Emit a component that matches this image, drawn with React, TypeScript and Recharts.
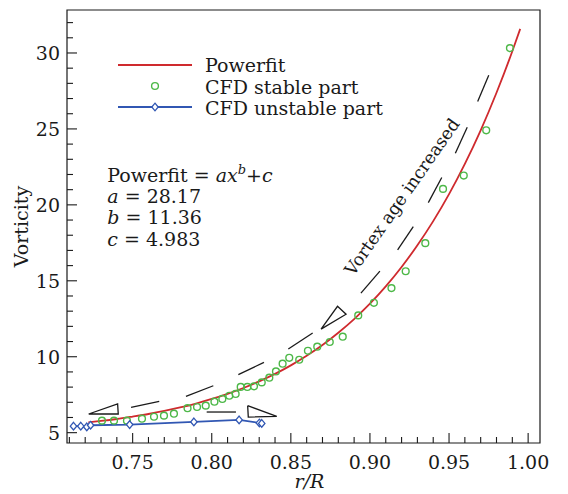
import React from 'react';
import { ComposedChart, Line, Scatter, XAxis, YAxis, ReferenceArea, Legend } from 'recharts';

// ---- data ----
const fitX = [0.722, 0.73, 0.74, 0.75, 0.76, 0.77, 0.78, 0.79, 0.80, 0.81, 0.82, 0.83, 0.84, 0.85, 0.86, 0.87, 0.88, 0.89, 0.90, 0.91, 0.92, 0.93, 0.94, 0.95, 0.96, 0.97, 0.98, 0.99, 0.995];
const fitY = [5.68, 5.77, 5.90, 6.06, 6.23, 6.43, 6.66, 6.92, 7.22, 7.56, 7.94, 8.38, 8.87, 9.43, 10.06, 10.77, 11.58, 12.48, 13.49, 14.63, 15.91, 17.34, 18.93, 20.71, 22.70, 24.91, 27.38, 30.11, 31.59];

const stableX = [0.7306, 0.7382, 0.7464, 0.7559, 0.7635, 0.7698, 0.7761, 0.7847, 0.7907, 0.7962, 0.8017, 0.8067, 0.8111, 0.8151, 0.8183, 0.8225, 0.8267, 0.8316, 0.8364, 0.8406, 0.8448, 0.8490, 0.8553, 0.8608, 0.8667, 0.8746, 0.8828, 0.8926, 0.9025, 0.9136, 0.9226, 0.9350, 0.9462, 0.9593, 0.9735, 0.9885];
const stableY = [5.79, 5.79, 5.79, 5.92, 6.05, 6.12, 6.25, 6.61, 6.69, 6.78, 7.04, 7.22, 7.43, 7.55, 8.01, 8.01, 8.05, 8.31, 8.62, 9.03, 9.54, 9.93, 9.80, 10.39, 10.66, 10.97, 11.32, 12.72, 13.55, 14.52, 15.63, 17.48, 21.05, 21.93, 24.91, 30.32];

const unstableX = [0.7126, 0.7172, 0.7210, 0.7234, 0.7481, 0.7887, 0.8173, 0.8301, 0.8316];
const unstableY = [5.43, 5.43, 5.38, 5.49, 5.53, 5.71, 5.84, 5.64, 5.61];

const xMajorTicks = [0.75, 0.80, 0.85, 0.90, 0.95, 1.00];
const xTicks = [0.71, 0.72, 0.73, 0.74, 0.75, 0.76, 0.77, 0.78, 0.79, 0.80, 0.81, 0.82, 0.83, 0.84, 0.85, 0.86, 0.87, 0.88, 0.89, 0.90, 0.91, 0.92, 0.93, 0.94, 0.95, 0.96, 0.97, 0.98, 0.99, 1.00];
const yMajorTicks = [5, 10, 15, 20, 25, 30];
const yTicks = [5, 6, 7, 8, 9, 10, 11, 12, 13, 14, 15, 16, 17, 18, 19, 20, 21, 22, 23, 24, 25, 26, 27, 28, 29, 30, 31, 32];

const xDomain = [0.7085, 1.0075];
const yDomain = [4.32, 32.83];

// annotation arrows (data coordinates)
const arrowDashes = [
  [0.7490, 6.66, 0.7668, 7.06],
  [0.7837, 7.39, 0.8010, 8.09],
  [0.8168, 8.82, 0.8330, 9.63],
  [0.8484, 10.51, 0.8638, 11.56],
  [0.8943, 14.19, 0.9063, 15.64],
  [0.9175, 17.04, 0.9274, 18.57],
  [0.9369, 20.15, 0.9454, 21.80],
  [0.9540, 23.40, 0.9615, 25.11],
  [0.9681, 26.80, 0.9751, 28.53],
  [0.7968, 6.36, 0.8153, 6.36],
];
const arrowHeads = [
  [[0.7222, 6.23], [0.7405, 6.89], [0.7409, 6.23]],
  [[0.8691, 11.82], [0.8795, 13.32], [0.8849, 12.80]],
  [[0.8227, 6.78], [0.8231, 6.03], [0.8411, 6.07]],
];
const formulaAnchor = [{ x: 0.7340, y: 21.5 }];
const vortexAnchor = [{ x: 0.9203, y: 20.53 }];

const fitData = fitX.map((x, i) => ({ x, y: fitY[i] }));
const stableData = stableX.map((x, i) => ({ x, y: stableY[i] }));
const unstableData = unstableX.map((x, i) => ({ x, y: unstableY[i] }));

const RED = '#cf2a2e';
const GREEN = '#4db848';
const BLUE = '#3157b3';
const INK = '#1a1a1a';
const FONT = '"DejaVu Serif", serif';
const FS = 19;

function XTick(props: any) {
  const { x, y, payload } = props;
  const v = payload.value;
  const major = xMajorTicks.some((m) => Math.abs(m - v) < 1e-6);
  return (
    <g>
      <line x1={x} x2={x} y1={y} y2={y - (major ? 10 : 6)} stroke={INK} strokeWidth={1.1} />
      {major && (
        <text x={x} y={y + 26} textAnchor="middle" fontFamily={FONT} fontSize={FS} fill={INK}>
          {v.toFixed(2)}
        </text>
      )}
    </g>
  );
}

function YTick(props: any) {
  const { x, y, payload } = props;
  const v = payload.value;
  const major = yMajorTicks.includes(v);
  return (
    <g>
      <line x1={x} x2={x + (major ? 10 : 6)} y1={y} y2={y} stroke={INK} strokeWidth={1.1} />
      {major && (
        <text x={x - 7} y={y + 7} textAnchor="end" fontFamily={FONT} fontSize={FS} fill={INK}>
          {String(v)}
        </text>
      )}
    </g>
  );
}

function Diamond(props: any) {
  const { cx, cy } = props;
  if (cx == null || cy == null) return null;
  return (
    <path
      d={`M${cx},${cy - 3.8} L${cx + 3.2},${cy} L${cx},${cy + 3.8} L${cx - 3.2},${cy} Z`}
      fill="#fff"
      stroke={BLUE}
      strokeWidth={1.3}
    />
  );
}

function Ring(props: any) {
  const { cx, cy } = props;
  return <circle cx={cx} cy={cy} r={3.4} fill="none" stroke={GREEN} strokeWidth={1.4} />;
}

function FormulaShape(props: any) {
  const { cx, cy } = props;
  const st = { fontFamily: FONT, fontSize: FS, fill: INK } as any;
  return (
    <g>
      <text x={cx} y={cy} {...st}>
        Powerfit = <tspan fontStyle="italic">ax</tspan>
        <tspan fontStyle="italic" fontSize={13} dy={-8}>b</tspan>
        <tspan dy={8}>+</tspan>
        <tspan fontStyle="italic">c</tspan>
      </text>
      <text x={cx} y={cy + 21} {...st}>
        <tspan fontStyle="italic">a</tspan> = 28.17
      </text>
      <text x={cx} y={cy + 42} {...st}>
        <tspan fontStyle="italic">b</tspan> = 11.36
      </text>
      <text x={cx} y={cy + 64} {...st}>
        <tspan fontStyle="italic">c</tspan> = 4.983
      </text>
    </g>
  );
}

function VortexShape(props: any) {
  const { cx, cy } = props;
  return (
    <text
      x={cx}
      y={cy}
      textAnchor="middle"
      dominantBaseline="central"
      transform={`rotate(-55 ${cx} ${cy})`}
      fontFamily={FONT}
      fontSize={17.5}
      fill={INK}
    >
      Vortex age increased
    </text>
  );
}

function LegendBox() {
  const st = { fontFamily: FONT, fontSize: FS, fill: INK } as any;
  return (
    <svg width={300} height={75} style={{ display: 'block' }}>
      <line x1={8} x2={82} y1={15} y2={15} stroke={RED} strokeWidth={1.8} />
      <text x={95} y={22} {...st}>Powerfit</text>
      <circle cx={45} cy={36} r={3.4} fill="none" stroke={GREEN} strokeWidth={1.4} />
      <text x={95} y={44} {...st}>CFD stable part</text>
      <line x1={8} x2={82} y1={57} y2={57} stroke={BLUE} strokeWidth={1.8} />
      <path d="M45,53.2 L48.2,57 L45,60.8 L41.8,57 Z" fill="#fff" stroke={BLUE} strokeWidth={1.3} />
      <text x={95} y={65} {...st}>CFD unstable part</text>
    </svg>
  );
}

function XLabel(props: any) {
  const vb = props.viewBox || {};
  const cx = vb.x + vb.width / 2 + 6;
  return (
    <text x={cx} y={vb.y + 45} textAnchor="middle" fontFamily={FONT} fontStyle="italic" fontSize={FS} fill={INK}>
      r/R
    </text>
  );
}

function YLabel(props: any) {
  const vb = props.viewBox || {};
  const x = vb.x + 21;
  const y = vb.y + vb.height / 2;
  return (
    <text x={x} y={y} textAnchor="middle" dominantBaseline="central" transform={`rotate(-90 ${x} ${y})`} fontFamily={FONT} fontSize={FS} fill={INK}>
      Vorticity
    </text>
  );
}

export default function App() {
  return (
    <div style={{ position: 'absolute', left: 0, top: 0, background: '#fff' }}>
      <ComposedChart width={568} height={494} margin={{ top: 10, right: 28, bottom: 0, left: 0 }}>
        <XAxis
          type="number"
          dataKey="x"
          domain={xDomain}
          ticks={xTicks}
          interval={0}
          allowDataOverflow
          tick={<XTick />}
          tickSize={0}
          tickMargin={0}
          tickLine={false}
          axisLine={false}
          height={51}
          label={{ value: 'r/R', content: <XLabel /> }}
        />
        <YAxis
          type="number"
          dataKey="y"
          domain={yDomain}
          ticks={yTicks}
          interval={0}
          allowDataOverflow
          tick={<YTick />}
          tickSize={0}
          tickMargin={0}
          tickLine={false}
          axisLine={false}
          width={67}
          label={{ value: 'Vorticity', content: <YLabel /> }}
        />
        <ReferenceArea x1={xDomain[0]} x2={xDomain[1]} y1={yDomain[0]} y2={yDomain[1]} fill="none" stroke={INK} strokeWidth={1.2} fillOpacity={0} />
        {arrowDashes.map((d, i) => (
          <Line
            key={'d' + i}
            data={[{ x: d[0], y: d[1] }, { x: d[2], y: d[3] }]}
            dataKey="y"
            type="linear"
            stroke={INK}
            strokeWidth={1.3}
            dot={false}
            activeDot={false}
            legendType="none"
            isAnimationActive={false}
          />
        ))}
        {arrowHeads.map((t, i) => (
          <Line
            key={'t' + i}
            data={[...t, t[0]].map((p) => ({ x: p[0], y: p[1] }))}
            dataKey="y"
            type="linear"
            stroke={INK}
            strokeWidth={1.3}
            strokeLinejoin="miter"
            dot={false}
            activeDot={false}
            legendType="none"
            isAnimationActive={false}
          />
        ))}
        <Line data={unstableData} dataKey="y" type="linear" stroke={BLUE} strokeWidth={1.8} dot={<Diamond />} activeDot={false} isAnimationActive={false} legendType="none" />
        <Line data={fitData} dataKey="y" type="monotone" stroke={RED} strokeWidth={1.8} dot={false} activeDot={false} isAnimationActive={false} legendType="none" />
        <Scatter data={stableData} dataKey="y" shape={<Ring />} isAnimationActive={false} legendType="none" />
        <Scatter data={formulaAnchor} dataKey="y" shape={<FormulaShape />} isAnimationActive={false} legendType="none" />
        <Scatter data={vortexAnchor} dataKey="y" shape={<VortexShape />} isAnimationActive={false} legendType="none" />
        <Legend
          layout="horizontal"
          verticalAlign="middle"
          align="center"
          wrapperStyle={{ position: 'absolute', left: 110, top: 50, width: 300, height: 75 }}
          content={() => <LegendBox />}
        />
      </ComposedChart>
    </div>
  );
}
